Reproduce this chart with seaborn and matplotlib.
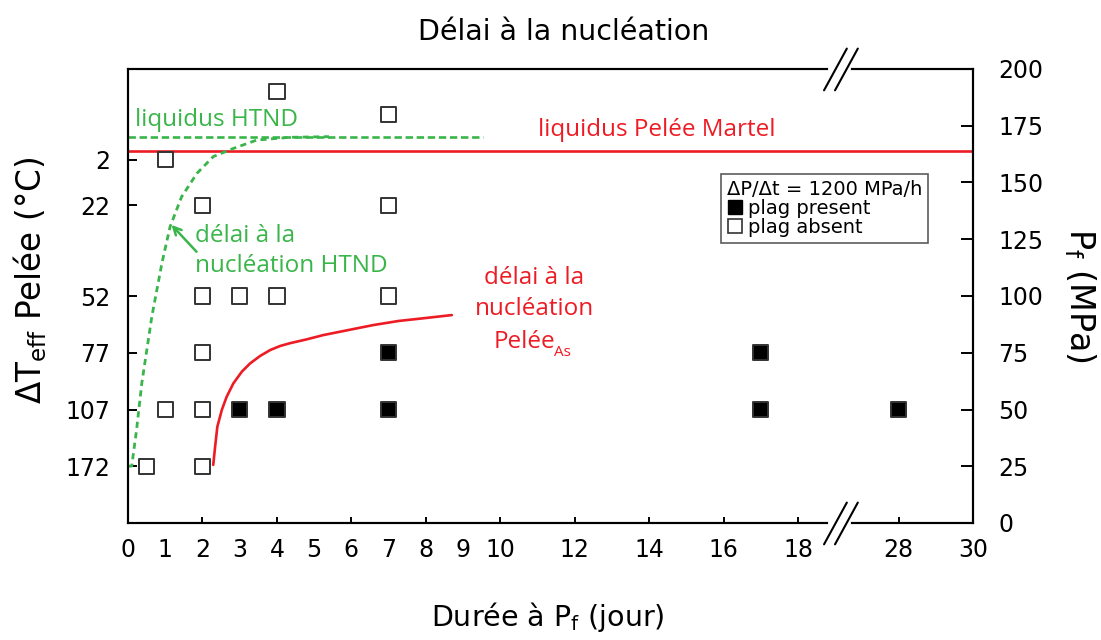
import numpy as np
import pandas as pd
import matplotlib
matplotlib.use("Agg")
import matplotlib.pyplot as plt
from matplotlib.lines import Line2D
import seaborn as sns

# experiments: duration at Pf (days), final pressure (MPa), plagioclase
duree = [0.5, 2, 1, 2, 2, 2, 3, 4, 7, 2, 7, 1, 7, 4,
         3, 4, 7, 7, 17, 17, 28]
pression = [25, 25, 50, 50, 75, 100, 100, 100, 100, 140, 140, 160, 180, 190,
            50, 50, 50, 75, 75, 50, 50]
plag = ["absent"] * 14 + ["present"] * 7

# liquidus lines (MPa)
liq_martel = 164
liq_htnd = 170
liq_htnd_xmax = 9.55

# nucleation delay curves (duration, pressure)
htnd_x = [0.0, 0.1, 0.23, 0.37, 0.64, 0.91, 1.13, 1.44, 1.85, 2.29, 2.83, 3.46, 4.35, 5.4]
htnd_p = [25, 25.1, 41, 61.5, 90.9, 114.4, 130.5, 143.7, 154, 161.4, 165, 168.7, 169.9, 170.2]
pelee_x = [2.29, 2.34, 2.40, 2.52, 2.65, 2.83, 3.06, 3.28, 3.55, 3.82, 4.09, 4.35,
           4.80, 5.25, 5.92, 6.59, 7.27, 7.94, 8.70]
pelee_p = [25.6, 33.6, 42.4, 49.8, 55.6, 61.5, 66.7, 70.3, 73.6, 76.2, 78.0, 79.2,
           80.9, 82.8, 85.0, 87.2, 89.0, 90.2, 91.6]

# axis ticks
xt_major = [0, 2, 4, 6, 8, 10, 12, 14, 16, 18, 28, 30]
xt_minor = [1, 3, 5, 7, 9]
dt_ticks = [25, 50, 75, 100, 140, 160]
dt_labels = ["172", "107", "77", "52", "22", "2"]
p_ticks = list(range(0, 201, 25))

df = pd.DataFrame({"duree": duree, "pression": pression, "plag": plag})

sns.set_style("ticks", rc={"text.color": "black", "axes.labelcolor": "black",
                           "xtick.color": "black", "ytick.color": "black",
                           "axes.edgecolor": "black"})
plt.rcParams["font.family"] = ["DejaVu Sans"]

RED = "#ed1c24"
GREEN = "#39b54a"
ANN = ["Open Sans", "DejaVu Sans"]

# broken x axis: 19.2 -> 26.5 removed
BR0, BR1 = 19.2, 26.5


def fwd(x):
    x = np.asarray(x, float)
    return np.where(x <= BR0, x, np.where(x >= BR1, x - (BR1 - BR0), BR0))


def inv(y):
    y = np.asarray(y, float)
    return np.where(y <= BR0, y, y + (BR1 - BR0))


fig = plt.figure(figsize=(11.01, 6.4), dpi=100)
ax = fig.add_axes([128 / 1101, 1 - 523 / 640, 845 / 1101, 454 / 640])
ax.set_xscale("function", functions=(fwd, inv))
ax.set_xlim(0, 30)
ax.set_ylim(0, 200)

# lines
ax.axhline(liq_martel, color=RED, lw=1.9, zorder=2)
ax.plot([0, liq_htnd_xmax], [liq_htnd, liq_htnd], color=GREEN, lw=1.9,
        dashes=(2.8, 1.4), zorder=2)
ax.plot(htnd_x, htnd_p, color=GREEN, lw=2.0, dashes=(2.2, 1.6), zorder=2)
ax.plot(pelee_x, pelee_p, color=RED, lw=1.9, zorder=2)

sns.scatterplot(data=df, x="duree", y="pression", hue="plag",
                palette={"absent": "white", "present": "black"},
                marker="s", s=120, edgecolor="#333333", linewidth=1.4,
                legend=False, ax=ax, zorder=3)

ax.set_xlabel("")
ax.set_ylabel("")
ax.set_xticks(xt_major)
ax.set_xticklabels([str(v) for v in xt_major])
ax.set_xticks(xt_minor, minor=True)
ax.set_xticklabels([str(v) for v in xt_minor], minor=True)
ax.tick_params(axis="x", which="major", direction="in", length=4.5, width=1.4,
               labelsize=17, pad=11)
ax.tick_params(axis="x", which="minor", direction="in", length=0,
               labelsize=17, pad=11)
ax.set_yticks(dt_ticks)
ax.set_yticklabels(dt_labels)
ax.tick_params(axis="y", direction="in", length=6.5, width=1.4, labelsize=17, pad=13)

ax2 = ax.twinx()
ax2.set_ylim(0, 200)
ax2.set_yticks(p_ticks)
ax2.tick_params(axis="y", direction="in", length=8.5, width=1.4, labelsize=17, pad=18)

for a in (ax, ax2):
    for sp in a.spines.values():
        sp.set_linewidth(1.5)
        sp.set_color("black")
        sp.set_visible(True)

# break marks (axes fraction)
for yb in (0.0, 1.0):
    ax2.plot([0.831, 0.853], [yb, yb], color="white", lw=3, transform=ax2.transAxes,
             clip_on=False, zorder=10)
    for x0 in (0.8237, 0.8367):
        ax2.plot([x0, x0 + 0.027], [yb - 0.047, yb + 0.045], color="black", lw=1.5,
                 transform=ax2.transAxes, clip_on=False, zorder=11)

# annotations
ax.text(0.19, 177.5, "liquidus HTND", color=GREEN, fontsize=17.5, family=ANN,
        ha="left", va="center")
ax.text(14.2, 173.1, "liquidus Pelée Martel", color=RED, fontsize=17.5, family=ANN,
        ha="center", va="center")
ax.text(1.8, 119.8, "délai à la\nnucléation HTND", color=GREEN, fontsize=17.5,
        family=ANN, ha="left", va="center", linespacing=1.35)
ax.annotate("", xy=(1.17, 131.3), xytext=(1.84, 119.5),
            arrowprops=dict(arrowstyle="->", color=GREEN, lw=1.8,
                            shrinkA=0, shrinkB=0, mutation_scale=14))
ax.text(10.91, 101.1, "délai à la\nnucléation", color=RED, fontsize=17.5,
        family=ANN, ha="center", va="center", linespacing=1.35)
ax.text(10.65, 79.7, "Pelée", color=RED, fontsize=17.5, family=ANN,
        ha="center", va="center")
ax.text(11.45, 75.3, "As", color=RED, fontsize=11, family=ANN,
        ha="left", va="center")

leg = ax2.legend(
    handles=[Line2D([], [], ls="none", marker="s", markersize=10,
                    markerfacecolor="black", markeredgecolor="black"),
             Line2D([], [], ls="none", marker="s", markersize=10,
                    markerfacecolor="white", markeredgecolor="#333333", markeredgewidth=1.2)],
    labels=["plag present", "plag absent"],
    title="ΔP/Δt = 1200 MPa/h", alignment="left",
    loc="upper left", bbox_to_anchor=(0.702, 0.769),
    fontsize=14, title_fontsize=14, frameon=True, fancybox=False,
    borderpad=0.3, labelspacing=0.0, handlelength=0.8, handletextpad=0.3,
    borderaxespad=0)
leg.get_frame().set_edgecolor("#333333")
leg.get_frame().set_linewidth(1.2)

fig.text(564 / 1101, 1 - 32 / 640, "Délai à la nucléation", fontsize=20.5,
         ha="center", va="center")
fig.text(548 / 1101, 1 - 617 / 640, r"Durée à P$_{\rm f}$ (jour)", fontsize=20.5,
         ha="center", va="center")
fig.text(30 / 1101, 1 - 280 / 640, r"$\Delta$T$_{\rm eff}$ Pelée (°C)", fontsize=23.5,
         ha="center", va="center", rotation=90)
fig.text(1080 / 1101, 1 - 295 / 640, r"P$_{\rm f}$ (MPa)", fontsize=24,
         ha="center", va="center", rotation=270)

fig.savefig("out.png", dpi=100)
